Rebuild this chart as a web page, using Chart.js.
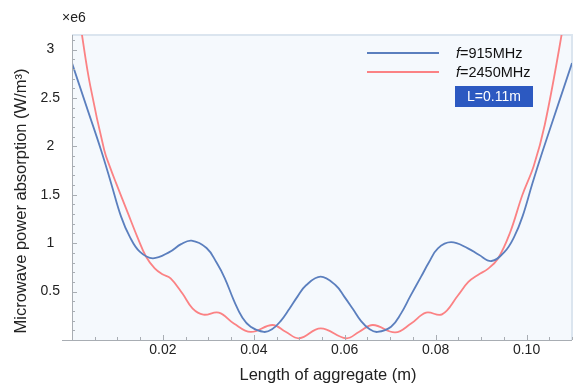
<!DOCTYPE html>
<html>
<head>
<meta charset="utf-8">
<title>Microwave power absorption</title>
<script src="https://cdn.jsdelivr.net/npm/chart.js@4.4.1/dist/chart.umd.min.js"></script>
<style>
  body { margin: 0; background: #fff; }
  canvas { display: block; }
</style>
</head>
<body>
<canvas id="Chart" width="578" height="384"></canvas>
<script>
// absorbed power along the aggregate, values in 1e6 W/m^3
const length915 = [0, 0.0032, 0.0064, 0.0086, 0.0108, 0.0127, 0.0149, 0.0178, 0.0215, 0.024,
  0.0263, 0.0296, 0.0318, 0.0336, 0.0356, 0.0375, 0.0393, 0.0422, 0.044, 0.0459,
  0.0478, 0.0496, 0.0515, 0.0547, 0.058, 0.0599, 0.0618, 0.0636, 0.0655, 0.0672,
  0.0702, 0.0724, 0.0744, 0.0768, 0.0785, 0.0805, 0.0834, 0.0871, 0.0895, 0.0923,
  0.0952, 0.0973, 0.0991, 0.1013, 0.1036, 0.1068, 0.11];
const power915 = [2.86, 2.41, 1.96, 1.62, 1.274, 1.067, 0.912, 0.844, 0.91, 0.99,
  1.026, 0.95, 0.80, 0.64, 0.41, 0.23, 0.137, 0.083, 0.11, 0.195,
  0.32, 0.448, 0.565, 0.654, 0.565, 0.448, 0.32, 0.195, 0.11, 0.083,
  0.137, 0.275, 0.45, 0.654, 0.80, 0.947, 1.01, 0.947, 0.88, 0.816,
  0.912, 1.067, 1.274, 1.62, 1.96, 2.41, 2.86];

const length2450 = [0, 0.0022, 0.004, 0.0071, 0.0084, 0.0097, 0.0123, 0.0145, 0.0163, 0.0182,
  0.0199, 0.0217, 0.0243, 0.0265, 0.0289, 0.0323, 0.0356, 0.0393, 0.0441, 0.047,
  0.05, 0.0547, 0.0603, 0.0632, 0.0662, 0.0711, 0.0746, 0.0779, 0.0814, 0.0849,
  0.0872, 0.0893, 0.0915, 0.0937, 0.0963, 0.0991, 0.1016, 0.104, 0.1077, 0.11];
const power2450 = [3.85, 3.15, 2.63, 1.96, 1.78, 1.62, 1.31, 1.05, 0.86, 0.74,
  0.68, 0.637, 0.48, 0.327, 0.262, 0.282, 0.17, 0.083, 0.155, 0.085,
  0.018, 0.12, 0.018, 0.085, 0.155, 0.078, 0.17, 0.282, 0.265, 0.46,
  0.60, 0.672, 0.735, 0.84, 1.10, 1.50, 1.80, 2.22, 3.15, 3.85];

const xTicks = [0.02, 0.04, 0.06, 0.08, 0.10];
const xTickLabels = ["0.02", "0.04", "0.06", "0.08", "0.10"];
const yTicks = [0.5, 1, 1.5, 2, 2.5, 3];
const yTickLabels = ["0.5", "1", "1.5", "2", "2.5", "3"];

const seriesNames = ["915MHz", "2450MHz"];
const lengthNote = "L=0.11m";
const xTitle = "Length of aggregate (m)";
const yTitle = "Microwave power absorption (W/m\u00b3)";

const BLUE = "#5b7fbe";
const RED = "#fb8284";
const INK = "#222";
const FONT = "'Liberation Sans', Arial, sans-serif";

function points(xs, ys) {
  return xs.map((x, i) => ({ x: x, y: ys[i] }));
}

// background, frame, inward tick marks, titles, legend and exponent label
const frame = {
  id: "frame",
  beforeDatasetsDraw(chart) {
    const { ctx, chartArea: a } = chart;
    ctx.save();
    ctx.fillStyle = "#f5f9fd";
    ctx.fillRect(a.left, a.top, a.right - a.left, a.bottom - a.top);
    ctx.strokeStyle = "#dbe5ef";
    ctx.lineWidth = 2;
    ctx.beginPath();
    ctx.moveTo(a.left, a.top);
    ctx.lineTo(a.right, a.top);
    ctx.lineTo(a.right, a.bottom);
    ctx.stroke();
    ctx.restore();
  },
  afterDraw(chart) {
    const { ctx, chartArea: a } = chart;
    const xs = chart.scales.x, ys = chart.scales.y;
    ctx.save();
    ctx.strokeStyle = "#a8adb3";
    ctx.lineWidth = 1;
    ctx.beginPath();
    ctx.moveTo(a.left - 10, a.bottom + 0.5);
    ctx.lineTo(a.right, a.bottom + 0.5);
    ctx.moveTo(a.left + 0.5, a.top);
    ctx.lineTo(a.left + 0.5, a.bottom);
    for (let i = 1; i * 0.005 <= 0.11 + 1e-9; i++) {
      const px = Math.round(xs.getPixelForValue(i * 0.005)) + 0.5;
      const len = i % 4 === 0 ? 5 : 3;
      ctx.moveTo(px, a.bottom);
      ctx.lineTo(px, a.bottom - len);
    }
    for (let i = 1; i * 0.1 <= 3.15; i++) {
      const py = Math.round(ys.getPixelForValue(i * 0.1)) + 0.5;
      const len = i % 5 === 0 ? 5 : 3;
      ctx.moveTo(a.left, py);
      ctx.lineTo(a.left + len, py);
    }
    ctx.stroke();

    // axis titles
    ctx.fillStyle = INK;
    ctx.font = "16.5px " + FONT;
    ctx.textAlign = "center";
    ctx.textBaseline = "middle";
    ctx.fillText(xTitle, 328, 375);
    ctx.save();
    ctx.translate(21, 201);
    ctx.rotate(-Math.PI / 2);
    ctx.fillText(yTitle, 0, 0);
    ctx.restore();

    // legend
    const rows = [[BLUE, 53], [RED, 72]];
    ctx.lineWidth = 1.8;
    ctx.textAlign = "left";
    rows.forEach(([c, y], i) => {
      ctx.strokeStyle = c;
      ctx.beginPath();
      ctx.moveTo(367, y);
      ctx.lineTo(439, y);
      ctx.stroke();
      ctx.fillStyle = "#111";
      ctx.font = "italic 14.5px " + FONT;
      ctx.fillText("f", 456, y + 1);
      const w = ctx.measureText("f").width;
      ctx.font = "14.5px " + FONT;
      ctx.fillText("=" + seriesNames[i], 456 + w, y + 1);
    });
    ctx.fillStyle = "#2c59c1";
    ctx.fillRect(455, 86, 78, 21);
    ctx.fillStyle = "#fff";
    ctx.font = "14px " + FONT;
    ctx.textAlign = "center";
    ctx.fillText(lengthNote, 494, 97);

    ctx.fillStyle = INK;
    ctx.textAlign = "left";
    ctx.font = "14px " + FONT;
    ctx.fillText("\u00d7e6", 62, 18);
    ctx.restore();
  }
};

new Chart("Chart", {
  type: "line",
  data: {
    datasets: [
      {
        label: "f=915MHz",
        data: points(length915, power915),
        borderColor: BLUE,
        borderWidth: 1.8,
        pointRadius: 0,
        tension: 0.4,
        fill: false
      },
      {
        label: "f=2450MHz",
        data: points(length2450, power2450),
        borderColor: RED,
        borderWidth: 1.8,
        pointRadius: 0,
        tension: 0.4,
        fill: false
      }
    ]
  },
  options: {
    responsive: false,
    animation: false,
    devicePixelRatio: 1,
    layout: { padding: { top: 35, right: 6, left: 0, bottom: 0 } },
    plugins: { legend: { display: false }, tooltip: { enabled: false } },
    scales: {
      x: {
        type: "linear",
        min: 0,
        max: 0.11,
        grid: { display: false, drawTicks: false },
        border: { display: false },
        afterBuildTicks: s => { s.ticks = xTicks.map(v => ({ value: v })); },
        afterFit: s => { s.height = 44; },
        ticks: {
          padding: 2,
          color: INK,
          font: { family: FONT, size: 14 },
          maxRotation: 0,
          callback: (v, i) => xTickLabels[i]
        }
      },
      y: {
        min: 0,
        max: 3.15,
        grid: { display: false, drawTicks: false },
        border: { display: false },
        afterBuildTicks: s => { s.ticks = yTicks.map(v => ({ value: v })); },
        afterFit: s => { s.width = 72; },
        ticks: {
          padding: 12,
          crossAlign: "center",
          color: INK,
          font: { family: FONT, size: 14 },
          callback: (v, i) => yTickLabels[i]
        }
      }
    }
  },
  plugins: [frame]
});
</script>
</body>
</html>
